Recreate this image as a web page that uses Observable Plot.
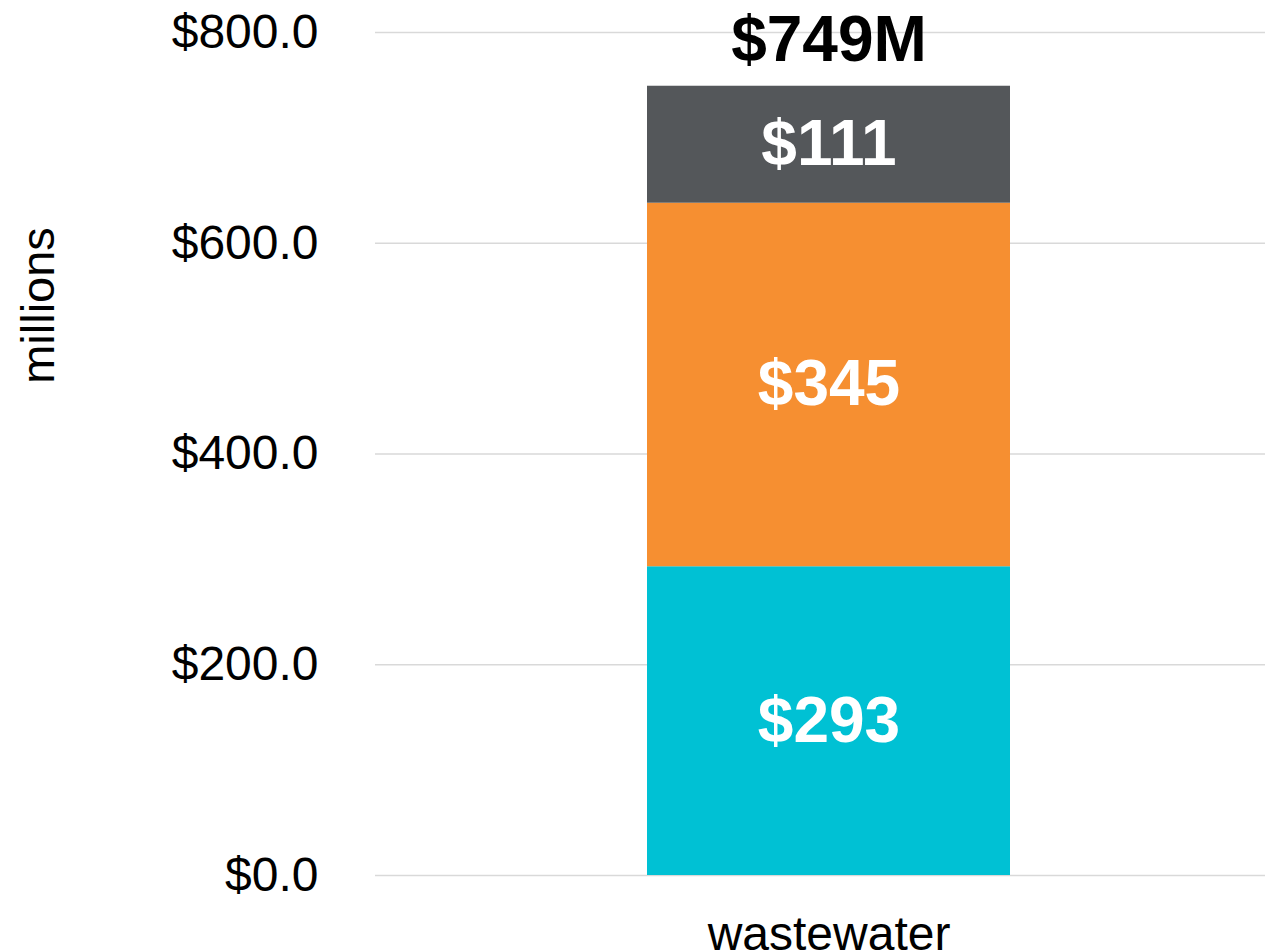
<!DOCTYPE html>
<html><head><meta charset="utf-8">
<script src="https://cdn.jsdelivr.net/npm/d3@7"></script>
<script src="https://cdn.jsdelivr.net/npm/@observablehq/plot@0.6"></script>
<style>body{margin:0;background:#fff;}</style>
</head><body><div id="chart"></div>
<script>
const categories = ["wastewater"];
const series = ["Segment 1", "Segment 2", "Segment 3"];
const values = [293, 345, 111];
const colors = ["#00C1D4", "#F68F31", "#54575A"];
const yTicks = [0, 200, 400, 600, 800];
const yAxisLabel = "millions";

const data = series.map((s, i) => ({category: categories[0], series: s, value: values[i]}));
const totals = categories.map(c => ({category: c, total: d3.sum(data.filter(d => d.category === c), d => d.value)}));

const chart = Plot.plot({
  width: 1265, height: 951,
  marginTop: 32, marginBottom: 76, marginLeft: 375, marginRight: 0,
  style: {fontFamily: "'Liberation Sans', Arial, sans-serif", background: "#fff", color: "#000"},
  x: {domain: categories, range: [647, 1010], padding: 0, label: null},
  y: {domain: [0, 800], label: null},
  color: {domain: series, range: colors},
  marks: [
    Plot.ruleY(yTicks, {stroke: "#d9d9d9", strokeWidth: 1.5}),
    Plot.axisY({ticks: yTicks, tickFormat: d => "$" + d.toFixed(1), tickSize: 0, tickPadding: 57, fontSize: 48, label: null}),
    Plot.axisX({tickSize: 0, tickPadding: 40, fontSize: 48, label: null}),
    Plot.barY(data, {x: "category", y: "value", fill: "series"}),
    Plot.text(data, Plot.stackY({x: "category", y: "value", text: d => "$" + d.value, fill: "white", fontSize: 64, fontWeight: "bold"})),
    Plot.text(totals, {x: "category", y: "total", text: d => "$" + d.total + "M", fill: "black", fontSize: 64, fontWeight: "bold", lineAnchor: "bottom", dy: -25}),
    Plot.text([yAxisLabel], {text: d => d, frameAnchor: "top-left", textAnchor: "middle", lineAnchor: "middle", rotate: -90, dx: -337, dy: 273, fontSize: 47, fill: "black"})
  ]
});
document.getElementById("chart").appendChild(chart);
</script>
</body></html>
